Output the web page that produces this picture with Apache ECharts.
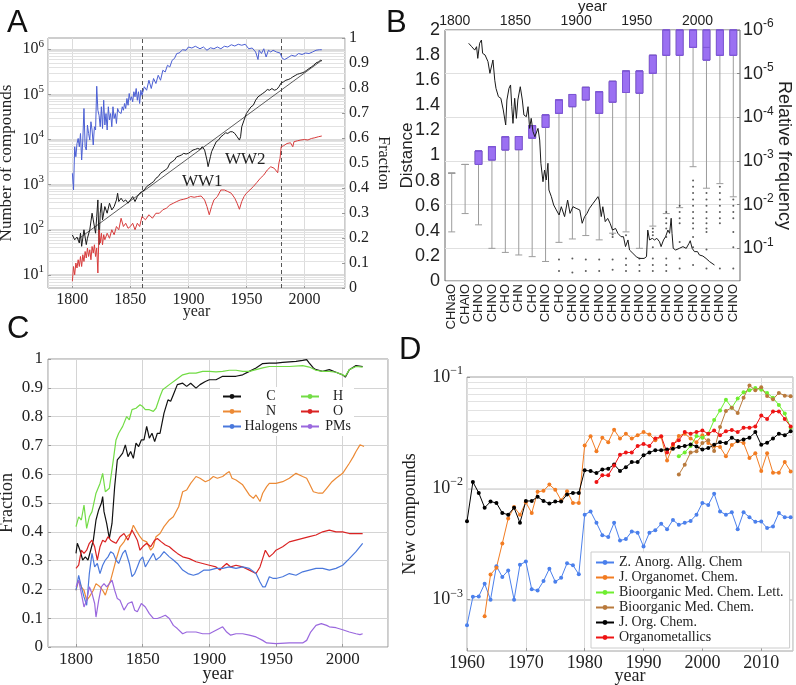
<!DOCTYPE html>
<html><head><meta charset="utf-8">
<script src="https://cdn.jsdelivr.net/npm/echarts@6/dist/echarts.min.js"></script>
<style>html,body{margin:0;padding:0;background:#fff}#c{width:796px;height:685px}</style>
</head><body><div id="c"></div>
<script>
// ================= Panel A =================
const aCompounds = [[1800,77],[1802,60],[1804,69],[1806,51],[1807,84],[1808,43],[1810,100],[1812,47],[1813,65],[1815,100],[1817,233],[1818,166],[1820,84],[1821,197],[1822,459],[1823,47],[1824,233],[1825,388],[1826,166],[1828,327],[1830,233],[1832,388],[1834,276],[1836,327],[1838,459],[1839,645],[1840,422],[1842,500],[1844,422],[1846,459],[1848,388],[1850,459],[1852,545],[1854,422],[1856,545],[1858,645],[1860,702],[1862,764],[1864,906],[1866,986],[1868,1073],[1870,1168],[1872,1384],[1874,1507],[1876,1785],[1878,1943],[1880,2115],[1882,2302],[1884,2970],[1886,3230],[1888,3517],[1890,4166],[1892,4311],[1894,4537],[1896,4940],[1898,4775],[1900,4940],[1902,5377],[1904,5853],[1906,6055],[1908,6370],[1910,6055],[1912,6934],[1914,5853],[1916,3517],[1917,2506],[1918,2593],[1919,4166],[1920,5377],[1922,6934],[1924,8937],[1926,9732],[1928,11530],[1930,12550],[1932,14130],[1934,13670],[1936,14870],[1938,14870],[1940,13670],[1942,11530],[1944,9732],[1945,11530],[1946,19190],[1948,26920],[1950,37840],[1952,44780],[1954,53080],[1956,57810],[1958,74500],[1960,88300],[1962,96100],[1964,104700],[1966,114000],[1968,128300],[1970,123900],[1972,134900],[1974,123900],[1976,128300],[1978,146900],[1980,179900],[1982,189600],[1984,206200],[1986,213300],[1988,224500],[1990,244400],[1992,261600],[1994,279900],[1996,289600],[1998,299500],[2000,315400],[2002,342800],[2004,373300],[2006,406400],[2008,442600],[2010,497800],[2012,524800],[2014,570200],[2015,552100]];
const aFit = [[1805,62],[2015,570000]];
const aFracBlue = [[1800,0.459],[1801,0.392],[1802,0.565],[1803,0.525],[1804,0.578],[1805,0.598],[1806,0.565],[1807,0.618],[1808,0.512],[1809,0.592],[1810,0.718],[1811,0.565],[1812,0.552],[1813,0.652],[1814,0.618],[1815,0.592],[1816,0.665],[1817,0.632],[1818,0.572],[1819,0.645],[1820,0.632],[1821,0.807],[1822,0.711],[1823,0.691],[1824,0.645],[1825,0.725],[1826,0.638],[1827,0.751],[1828,0.652],[1829,0.698],[1830,0.632],[1831,0.725],[1832,0.672],[1833,0.698],[1834,0.645],[1835,0.725],[1836,0.678],[1837,0.698],[1838,0.658],[1839,0.718],[1840,0.705],[1841,0.711],[1842,0.698],[1843,0.725],[1844,0.711],[1845,0.738],[1846,0.718],[1847,0.758],[1848,0.731],[1849,0.778],[1850,0.751],[1851,0.765],[1852,0.745],[1853,0.785],[1854,0.765],[1855,0.798],[1856,0.751],[1857,0.785],[1858,0.738],[1859,0.791],[1860,0.771],[1862,0.805],[1864,0.791],[1866,0.831],[1868,0.798],[1870,0.838],[1872,0.818],[1874,0.851],[1876,0.831],[1878,0.871],[1880,0.864],[1882,0.891],[1884,0.884],[1886,0.911],[1888,0.918],[1890,0.938],[1892,0.940],[1895,0.953],[1898,0.951],[1900,0.964],[1903,0.960],[1906,0.967],[1910,0.957],[1913,0.964],[1916,0.951],[1919,0.961],[1922,0.957],[1925,0.964],[1928,0.957],[1931,0.967],[1934,0.964],[1937,0.973],[1940,0.968],[1943,0.975],[1946,0.971],[1949,0.975],[1952,0.957],[1955,0.960],[1958,0.944],[1960,0.914],[1961,0.951],[1963,0.938],[1965,0.957],[1967,0.924],[1969,0.951],[1971,0.944],[1973,0.951],[1976,0.944],[1979,0.940],[1981,0.918],[1983,0.914],[1986,0.922],[1989,0.931],[1992,0.927],[1995,0.938],[1998,0.934],[2001,0.940],[2004,0.938],[2007,0.944],[2010,0.951],[2013,0.953],[2015,0.953]];
const aFracRed = [[1800,0.027],[1801,0.086],[1802,0.053],[1803,0.100],[1804,0.080],[1805,0.113],[1806,0.086],[1807,0.126],[1808,0.086],[1809,0.133],[1810,0.106],[1811,0.146],[1812,0.120],[1813,0.160],[1814,0.126],[1815,0.153],[1816,0.113],[1817,0.166],[1818,0.140],[1819,0.173],[1820,0.126],[1821,0.160],[1822,0.060],[1823,0.233],[1824,0.180],[1825,0.219],[1826,0.173],[1827,0.213],[1828,0.193],[1830,0.219],[1832,0.199],[1834,0.233],[1836,0.213],[1838,0.246],[1840,0.233],[1842,0.279],[1844,0.246],[1846,0.259],[1848,0.239],[1850,0.246],[1852,0.259],[1854,0.233],[1856,0.259],[1858,0.246],[1860,0.286],[1863,0.273],[1866,0.293],[1869,0.279],[1872,0.299],[1875,0.299],[1878,0.313],[1881,0.319],[1884,0.332],[1887,0.339],[1890,0.346],[1893,0.352],[1896,0.355],[1899,0.359],[1902,0.366],[1905,0.363],[1908,0.366],[1911,0.368],[1914,0.352],[1916,0.326],[1918,0.293],[1920,0.326],[1922,0.352],[1925,0.366],[1928,0.392],[1931,0.392],[1934,0.386],[1937,0.379],[1940,0.359],[1942,0.339],[1944,0.315],[1946,0.346],[1948,0.366],[1950,0.379],[1953,0.392],[1956,0.406],[1959,0.422],[1962,0.439],[1965,0.452],[1968,0.472],[1971,0.485],[1974,0.479],[1977,0.461],[1978,0.499],[1979,0.519],[1980,0.565],[1982,0.569],[1985,0.578],[1988,0.581],[1990,0.565],[1991,0.585],[1994,0.589],[1997,0.592],[2000,0.594],[2003,0.592],[2006,0.598],[2009,0.601],[2012,0.605],[2015,0.608]];
const aEventYears = [1860, 1980];
const aWarLabels = [['WW1', 1912, 0.425], ['WW2', 1949, 0.515]];

// ================= Panel B =================
const bCategories = ['CHNaO','CHAlO','CHNO','CHNO','CHO','CHN','CHO','CHNO','CHO','CHNO','CHNO','CHNO','CHNO','CHNO','CHNO','CHNO','CHNO','CHNO','CHNO','CHNO','CHNO','CHNO'];
const bBoxQ1 = [null,null,5.9e-4,4.7e-4,2.8e-4,2.75e-4,1.55e-4,8.8e-5,4.0e-5,3.0e-5,2.06e-5,2.6e-5,1.5e-5,8.7e-6,8.7e-6,3.8e-6,1e-6,1e-6,1e-6,1e-6,1e-6,1e-6];
const bBoxMedian = [null,null,5.9e-4,4.7e-4,2.8e-4,2.75e-4,1.55e-4,8.8e-5,4.0e-5,3.0e-5,2.06e-5,2.6e-5,1.5e-5,8.7e-6,8.7e-6,3.8e-6,1e-6,1e-6,1e-6,2.5e-6,1e-6,1e-6];
const bBoxQ3 = [null,null,1.2e-3,9.5e-4,5.6e-4,5.5e-4,3.0e-4,1.7e-4,8.1e-5,5.7e-5,4.0e-5,8.1e-5,4.5e-5,2.7e-5,2.8e-5,9.8e-6,3.8e-6,3.8e-6,2.5e-6,4.9e-6,3.8e-6,3.8e-6];
const bWhiskerTop = [1.9e-3,1.2e-3,5.9e-4,4.7e-4,2.8e-4,2.75e-4,1.55e-4,8.8e-5,4.0e-5,3.0e-5,2.06e-5,2.6e-5,1.5e-5,8.7e-6,8.7e-6,3.8e-6,1e-6,1e-6,1e-6,1e-6,1e-6,1e-6];
const bWhiskerBottom = [4.2e-2,1.6e-2,2.9e-2,0.1,0.124,0.142,0.155,0.2,7.3e-2,6.1e-2,5.1e-2,6.4e-2,4.5e-2,4.2e-2,0.1,3.1e-2,1.6e-2,1.17e-2,1.35e-3,4.2e-3,3.3e-3,6.6e-3];
const bOutliers = [[8,0.18],[8,0.33],[9,0.17],[9,0.36],[10,0.18],[10,0.33],[11,0.18],[11,0.33],[12,0.048],[12,0.055],[12,0.18],[12,0.31],[13,0.05],[13,0.17],[13,0.24],[13,0.33],[14,0.17],[14,0.24],[14,0.33],[15,0.035],[15,0.042],[15,0.05],[15,0.094],[15,0.17],[15,0.24],[15,0.33],[16,0.0147],[16,0.0205],[16,0.0267],[16,0.035],[16,0.055],[16,0.17],[16,0.24],[16,0.33],[17,0.0106],[17,0.0147],[17,0.0205],[17,0.0267],[17,0.072],[17,0.17],[17,0.29],[18,0.0028],[18,0.0039],[18,0.0054],[18,0.0076],[18,0.0106],[18,0.0147],[18,0.0205],[18,0.0267],[18,0.035],[18,0.055],[18,0.094],[18,0.24],[19,0.0054],[19,0.0076],[19,0.0106],[19,0.0147],[19,0.0205],[19,0.0267],[19,0.035],[19,0.042],[19,0.107],[19,0.29],[20,0.0039],[20,0.0054],[20,0.0076],[20,0.0106],[20,0.0147],[20,0.0205],[20,0.0267],[20,0.29],[21,0.0076],[21,0.0106],[21,0.0147],[21,0.0205],[21,0.042],[21,0.094],[21,0.29]];
const bDistance = [[1811.5,1.894],[1812,1.907],[1814,1.867],[1815,1.88],[1816.5,1.84],[1818,1.867],[1819,1.774],[1820.5,1.894],[1822,1.92],[1823,1.814],[1825,1.801],[1826,1.793],[1827.4,1.748],[1829,1.655],[1831.5,1.761],[1833,1.6],[1834,1.535],[1836,1.469],[1838,1.456],[1840,1.363],[1842,1.243],[1843,1.442],[1844.7,1.535],[1846,1.562],[1847,1.389],[1848,1.256],[1849.4,1.456],[1850.8,1.296],[1852,1.442],[1854,1.548],[1855.7,1.442],[1857,1.323],[1859,1.309],[1860.4,1.389],[1861.7,1.216],[1863,1.296],[1864.5,1.19],[1866,1.15],[1867,1.163],[1868.6,1.216],[1870,1.123],[1871,0.938],[1872.7,0.791],[1874,0.884],[1875.4,0.805],[1876.8,0.938],[1877.6,0.725],[1879.6,0.672],[1881.5,0.606],[1883.7,0.566],[1886,0.526],[1887.8,0.592],[1890.5,0.513],[1893,0.645],[1895,0.539],[1897.4,0.592],[1900,0.579],[1903,0.566],[1905,0.46],[1907,0.513],[1909,0.539],[1911,0.579],[1914,0.619],[1916,0.645],[1918,0.672],[1919,0.645],[1920.7,0.513],[1922,0.592],[1924,0.473],[1926,0.499],[1928,0.46],[1930,0.406],[1932.5,0.419],[1934.4,0.38],[1937,0.353],[1939,0.353],[1940.7,0.274],[1942.7,0.327],[1944,0.247],[1946.8,0.22],[1949.5,0.194],[1952,0.18],[1956,0.18],[1958,0.194],[1959,0.406],[1960.5,0.327],[1962.7,0.34],[1964.6,0.327],[1966.5,0.34],[1968.7,0.313],[1970,0.274],[1972,0.327],[1973.7,0.353],[1975.6,0.406],[1977,0.38],[1978.3,0.5],[1979,0.38],[1980,0.26],[1982,0.247],[1985,0.26],[1988,0.274],[1990.7,0.26],[1993,0.3],[1994,0.321],[1995.6,0.26],[1997.5,0.234],[2000,0.234],[2001.6,0.207],[2004.4,0.199],[2007,0.18],[2010,0.154],[2014,0.127]];

// ================= Panel C =================
const cCarbon = [[1800,0.325],[1801,0.360],[1803,0.336],[1805,0.302],[1807,0.313],[1809,0.302],[1811,0.336],[1813,0.371],[1815,0.441],[1817,0.476],[1819,0.499],[1820,0.522],[1821,0.470],[1823,0.429],[1825,0.377],[1827,0.429],[1829,0.557],[1831,0.650],[1833,0.661],[1835,0.673],[1837,0.702],[1839,0.661],[1841,0.679],[1843,0.655],[1845,0.708],[1847,0.696],[1849,0.719],[1851,0.719],[1853,0.766],[1855,0.725],[1857,0.742],[1859,0.713],[1861,0.742],[1863,0.742],[1866,0.812],[1869,0.858],[1871,0.853],[1873,0.876],[1876,0.911],[1880,0.916],[1883,0.905],[1886,0.916],[1890,0.899],[1893,0.911],[1897,0.922],[1900,0.928],[1905,0.928],[1910,0.940],[1915,0.940],[1920,0.940],[1925,0.945],[1930,0.957],[1935,0.969],[1940,0.984],[1945,0.986],[1950,0.986],[1955,0.988],[1960,0.990],[1965,0.992],[1970,0.995],[1973,0.998],[1975,0.986],[1978,0.969],[1980,0.963],[1985,0.957],[1990,0.963],[1995,0.954],[2000,0.945],[2002,0.937],[2005,0.963],[2010,0.977],[2015,0.974]];
const cHydrogen = [[1800,0.418],[1802,0.452],[1804,0.441],[1806,0.493],[1808,0.412],[1810,0.452],[1812,0.470],[1815,0.534],[1818,0.568],[1820,0.603],[1822,0.539],[1825,0.551],[1828,0.650],[1830,0.719],[1832,0.742],[1835,0.766],[1838,0.800],[1840,0.789],[1842,0.824],[1845,0.829],[1848,0.841],[1850,0.835],[1852,0.824],[1855,0.824],[1858,0.818],[1860,0.829],[1863,0.870],[1865,0.893],[1870,0.911],[1875,0.928],[1880,0.945],[1885,0.951],[1890,0.951],[1895,0.957],[1900,0.957],[1905,0.955],[1910,0.957],[1915,0.961],[1920,0.961],[1925,0.957],[1930,0.957],[1935,0.963],[1940,0.969],[1945,0.974],[1950,0.974],[1960,0.974],[1970,0.977],[1975,0.972],[1980,0.961],[1985,0.957],[1990,0.957],[1995,0.954],[2000,0.945],[2002,0.940],[2005,0.963],[2010,0.974],[2015,0.972]];
const cNitrogen = [[1800,0.197],[1802,0.232],[1804,0.209],[1806,0.197],[1808,0.162],[1810,0.174],[1813,0.197],[1815,0.220],[1818,0.209],[1820,0.197],[1822,0.180],[1824,0.209],[1826,0.232],[1828,0.267],[1830,0.302],[1833,0.348],[1836,0.365],[1838,0.383],[1841,0.394],[1843,0.423],[1845,0.406],[1848,0.383],[1850,0.371],[1853,0.365],[1856,0.336],[1858,0.348],[1860,0.383],[1863,0.394],[1866,0.418],[1870,0.441],[1873,0.452],[1877,0.487],[1880,0.539],[1883,0.545],[1886,0.568],[1890,0.592],[1893,0.586],[1897,0.574],[1900,0.580],[1903,0.592],[1906,0.586],[1910,0.592],[1913,0.603],[1915,0.609],[1917,0.586],[1920,0.580],[1925,0.563],[1930,0.528],[1933,0.516],[1935,0.528],[1938,0.505],[1940,0.534],[1943,0.557],[1945,0.568],[1950,0.568],[1955,0.574],[1960,0.586],[1965,0.603],[1970,0.592],[1973,0.586],[1975,0.568],[1978,0.539],[1982,0.534],[1985,0.534],[1988,0.551],[1992,0.574],[1995,0.586],[2000,0.603],[2005,0.638],[2008,0.661],[2010,0.679],[2013,0.702],[2016,0.696]];
const cOxygen = [[1800,0.273],[1802,0.284],[1804,0.336],[1806,0.325],[1808,0.336],[1810,0.360],[1812,0.371],[1814,0.348],[1816,0.302],[1818,0.348],[1820,0.371],[1822,0.365],[1824,0.383],[1826,0.371],[1828,0.365],[1830,0.360],[1833,0.383],[1836,0.394],[1839,0.371],[1842,0.406],[1844,0.389],[1846,0.371],[1848,0.336],[1850,0.348],[1853,0.360],[1856,0.348],[1859,0.371],[1861,0.377],[1864,0.365],[1867,0.354],[1870,0.348],[1873,0.336],[1876,0.325],[1880,0.313],[1885,0.307],[1890,0.296],[1895,0.290],[1900,0.284],[1905,0.278],[1908,0.267],[1910,0.278],[1913,0.290],[1916,0.278],[1920,0.284],[1925,0.278],[1930,0.267],[1935,0.255],[1938,0.278],[1940,0.307],[1942,0.336],[1945,0.313],[1948,0.325],[1950,0.336],[1955,0.348],[1960,0.365],[1965,0.371],[1970,0.377],[1975,0.383],[1980,0.389],[1985,0.400],[1990,0.406],[1995,0.400],[2000,0.400],[2005,0.394],[2010,0.394],[2015,0.394]];
const cHalogens = [[1800,0.197],[1802,0.249],[1804,0.209],[1806,0.174],[1808,0.145],[1810,0.255],[1812,0.325],[1814,0.278],[1816,0.290],[1818,0.255],[1820,0.284],[1822,0.302],[1824,0.313],[1826,0.331],[1828,0.325],[1830,0.302],[1832,0.290],[1835,0.325],[1837,0.336],[1840,0.290],[1842,0.244],[1844,0.255],[1846,0.278],[1848,0.302],[1850,0.313],[1852,0.278],[1855,0.302],[1858,0.325],[1860,0.302],[1863,0.313],[1866,0.331],[1870,0.313],[1873,0.302],[1876,0.290],[1880,0.267],[1884,0.255],[1888,0.249],[1892,0.255],[1896,0.267],[1900,0.267],[1905,0.273],[1910,0.273],[1915,0.278],[1920,0.273],[1925,0.278],[1930,0.273],[1935,0.255],[1938,0.226],[1940,0.209],[1942,0.209],[1945,0.244],[1948,0.238],[1950,0.238],[1955,0.244],[1960,0.255],[1965,0.249],[1970,0.261],[1975,0.267],[1980,0.273],[1985,0.273],[1990,0.267],[1995,0.273],[2000,0.284],[2005,0.307],[2010,0.331],[2015,0.360]];
const cPMs = [[1800,0.209],[1802,0.232],[1804,0.186],[1806,0.139],[1808,0.162],[1810,0.209],[1812,0.186],[1814,0.151],[1815,0.104],[1817,0.162],[1819,0.209],[1821,0.220],[1823,0.209],[1825,0.220],[1827,0.232],[1829,0.197],[1831,0.168],[1833,0.162],[1836,0.128],[1839,0.151],[1842,0.157],[1844,0.128],[1846,0.122],[1849,0.151],[1852,0.139],[1855,0.116],[1858,0.099],[1861,0.099],[1864,0.104],[1867,0.110],[1870,0.099],[1873,0.075],[1876,0.064],[1880,0.046],[1883,0.052],[1886,0.052],[1890,0.052],[1895,0.046],[1900,0.046],[1905,0.058],[1910,0.070],[1913,0.052],[1916,0.041],[1920,0.046],[1925,0.046],[1930,0.041],[1935,0.035],[1940,0.023],[1943,0.014],[1950,0.012],[1960,0.014],[1970,0.014],[1973,0.023],[1976,0.052],[1980,0.075],[1984,0.081],[1988,0.075],[1990,0.070],[1995,0.067],[2000,0.060],[2005,0.052],[2010,0.046],[2013,0.043],[2015,0.046]];

// ================= Panel D =================
const dZAnorg = [[1960,5.9e-4],[1961,1.06e-3],[1962,1.07e-3],[1963,1.39e-3],[1964,1.0e-3],[1965,2.0e-3],[1966,1.6e-3],[1967,1.83e-3],[1968,1.0e-3],[1969,2.06e-3],[1970,2.2e-3],[1971,1.24e-3],[1972,1.21e-3],[1973,1.47e-3],[1974,1.9e-3],[1975,1.45e-3],[1976,1.57e-3],[1977,2.12e-3],[1978,2.04e-3],[1979,1.69e-3],[1980,5.8e-3],[1981,6.2e-3],[1982,4.9e-3],[1983,3.8e-3],[1984,3.66e-3],[1985,4.9e-3],[1986,3.4e-3],[1987,3.5e-3],[1988,4.1e-3],[1989,4.0e-3],[1990,3.0e-3],[1991,4.0e-3],[1992,4.2e-3],[1993,4.8e-3],[1994,4.3e-3],[1995,5.2e-3],[1996,4.7e-3],[1997,4.9e-3],[1998,5.1e-3],[1999,5.8e-3],[2000,7.4e-3],[2001,7.1e-3],[2002,8.95e-3],[2003,6.2e-3],[2004,5.8e-3],[2005,6.1e-3],[2006,4.3e-3],[2007,6.1e-3],[2008,5.5e-3],[2009,5.0e-3],[2010,5.05e-3],[2011,4.4e-3],[2012,4.55e-3],[2013,6.0e-3],[2014,5.5e-3],[2015,5.5e-3]];
const dOrganomet = [[1963,7.1e-4],[1964,1.68e-3],[1965,1.94e-3],[1966,3.2e-3],[1967,5.35e-3],[1968,6.8e-3],[1969,5.8e-3],[1970,7.5e-3],[1971,6.0e-3],[1972,9.3e-3],[1973,9.5e-3],[1974,1.08e-2],[1975,9.7e-3],[1976,7.8e-3],[1977,9.4e-3],[1978,7.4e-3],[1979,7.4e-3],[1980,2.43e-2],[1981,2.93e-2],[1982,2.15e-2],[1983,2.85e-2],[1984,2.6e-2],[1985,3.36e-2],[1986,2.8e-2],[1987,3.1e-2],[1988,2.8e-2],[1989,3.0e-2],[1990,3.2e-2],[1991,3.05e-2],[1992,2.7e-2],[1993,2.9e-2],[1994,1.78e-2],[1995,2.4e-2],[1996,2.95e-2],[1997,3.1e-2],[1998,2.8e-2],[1999,2.6e-2],[2000,3.0e-2],[2001,2.55e-2],[2002,2.4e-2],[2003,2.35e-2],[2004,1.94e-2],[2005,2.45e-2],[2006,2.65e-2],[2007,2.55e-2],[2008,1.87e-2],[2009,2.07e-2],[2010,1.43e-2],[2011,2.07e-2],[2012,1.38e-2],[2013,1.38e-2],[2014,1.72e-2],[2015,1.42e-2]];
const dBioMedLett = [[1996,1.94e-2],[1997,2.1e-2],[1998,2.4e-2],[1999,2.95e-2],[2000,2.85e-2],[2001,3.1e-2],[2002,4.1e-2],[2003,5.0e-2],[2004,6.25e-2],[2005,5.3e-2],[2006,6.4e-2],[2007,7.3e-2],[2008,7.6e-2],[2009,7.95e-2],[2010,7.7e-2],[2011,7.2e-2],[2012,6.5e-2],[2013,5.6e-2],[2014,4.7e-2],[2015,3.5e-2]];
const dBioMed = [[1996,1.33e-2],[1997,1.63e-2],[1998,2.1e-2],[1999,2.15e-2],[2000,2.55e-2],[2001,2.7e-2],[2002,2.17e-2],[2003,3.55e-2],[2004,4.95e-2],[2005,5.3e-2],[2006,4.75e-2],[2007,6.5e-2],[2008,8.4e-2],[2009,7.6e-2],[2010,8.1e-2],[2011,6.75e-2],[2012,6.3e-2],[2013,7.2e-2],[2014,6.8e-2],[2015,6.7e-2]];
const dJOrgChem = [[1960,5.06e-3],[1961,1.14e-2],[1962,9.1e-3],[1963,6.7e-3],[1964,7.6e-3],[1965,7.4e-3],[1966,6.0e-3],[1967,5.8e-3],[1968,6.7e-3],[1969,4.9e-3],[1970,7.7e-3],[1971,7.7e-3],[1972,8.4e-3],[1973,7.7e-3],[1974,7.3e-3],[1975,7.6e-3],[1976,7.6e-3],[1977,8.8e-3],[1978,9.1e-3],[1979,9.1e-3],[1980,1.45e-2],[1981,1.43e-2],[1982,1.37e-2],[1983,1.48e-2],[1984,1.5e-2],[1985,1.64e-2],[1986,1.43e-2],[1987,1.55e-2],[1988,1.72e-2],[1989,1.72e-2],[1990,1.98e-2],[1991,2.1e-2],[1992,2.2e-2],[1993,2.2e-2],[1994,2.23e-2],[1995,2.27e-2],[1996,2.35e-2],[1997,2.4e-2],[1998,2.48e-2],[1999,2.38e-2],[2000,2.23e-2],[2001,2.3e-2],[2002,2.46e-2],[2003,2.6e-2],[2004,2.55e-2],[2005,2.85e-2],[2006,2.66e-2],[2007,2.75e-2],[2008,2.85e-2],[2009,3.2e-2],[2010,2.46e-2],[2011,2.57e-2],[2012,2.8e-2],[2013,3.1e-2],[2014,3.0e-2],[2015,3.25e-2]];
const dOrganometallics = [[1982,1.14e-2],[1983,1.31e-2],[1984,1.31e-2],[1985,1.6e-2],[1986,2.0e-2],[1987,2.1e-2],[1988,2.1e-2],[1989,2.4e-2],[1990,2.5e-2],[1991,2.4e-2],[1992,2.8e-2],[1993,2.93e-2],[1994,2.1e-2],[1995,2.5e-2],[1996,2.7e-2],[1997,3.2e-2],[1998,3.1e-2],[1999,3.2e-2],[2000,3.3e-2],[2001,3.1e-2],[2002,3.3e-2],[2003,3.0e-2],[2004,3.25e-2],[2005,3.35e-2],[2006,3.2e-2],[2007,3.5e-2],[2008,3.5e-2],[2009,3.6e-2],[2010,4.5e-2],[2011,4.2e-2],[2012,4.9e-2],[2013,4.9e-2],[2014,4.2e-2],[2015,3.6e-2]];

// ================= Rendering =================
const SERIF = 'Liberation Serif', SANS = 'Liberation Sans', TXT = '#222';
function powLabel(minus) {
  return function (v) {
    const l = Math.log10(v), e = Math.round(l);
    if (Math.abs(l - e) > 1e-6) return '';
    return '{b|10}{s|' + (e < 0 ? minus + (-e) : e) + '}';
  };
}
function supRich(font, base, sup) {
  return { b: { fontFamily: font, fontSize: base, lineHeight: base + 6, color: TXT },
           s: { fontFamily: font, fontSize: sup, lineHeight: sup + 1, verticalAlign: 'top', color: TXT } };
}
function minorDecades(lo, hi) {
  const out = [];
  for (let k = -6; k <= 7; k++) for (let m = 2; m <= 9; m++) {
    const v = m * Math.pow(10, k);
    if (v > lo && v < hi) out.push({ yAxis: v });
  }
  return out;
}
const fracFmt = v => (v === 0 ? '0' : v === 1 ? '1' : String(+v.toFixed(1)));
const yearFmt = v => String(Math.round(v));

const aMin = 5.13, aMax = 1778279;
const dMin = 3.46e-4, dMax = 0.1;

const chart = echarts.init(document.getElementById('c'), null, { renderer: 'canvas' });
const option = {
  animation: false,
  backgroundColor: '#fff',
  textStyle: { fontFamily: SERIF, color: TXT },
  graphic: [
    { type: 'text', left: 7, top: 8, style: { text: 'A', font: '31px "Liberation Sans"', fill: '#111' } },
    { type: 'text', left: 386, top: 8, style: { text: 'B', font: '31px "Liberation Sans"', fill: '#111' } },
    { type: 'text', left: 7, top: 314, style: { text: 'C', font: '31px "Liberation Sans"', fill: '#111' } },
    { type: 'text', left: 399, top: 335, style: { text: 'D', font: '31px "Liberation Sans"', fill: '#111' } }
  ],
  grid: [
    { left: 48, top: 38, width: 297, height: 250, show: true, borderColor: '#999', borderWidth: 1, outerBoundsMode: 'none' },
    { left: 445, top: 30, width: 295, height: 251, show: true, borderColor: '#666', borderWidth: 1, outerBoundsMode: 'none' },
    { left: 48, top: 359, width: 340, height: 288, show: true, borderColor: '#999', borderWidth: 1, outerBoundsMode: 'none' },
    { left: 467, top: 377, width: 326, height: 274, show: true, borderColor: '#aaa', borderWidth: 1, outerBoundsMode: 'none' }
  ],
  xAxis: [
    { gridIndex: 0, type: 'value', min: 1779, max: 2035, splitNumber: 5,
      axisLine: { show: false }, axisTick: { inside: true, length: 3, lineStyle: { color: '#999' } },
      axisLabel: { fontSize: 16, margin: 4, color: TXT, showMinLabel: false, showMaxLabel: false, formatter: yearFmt },
      splitLine: { show: true, lineStyle: { color: '#dcdcdc' } },
      name: 'year', nameLocation: 'middle', nameGap: 16, nameMoveOverlap: false, nameTextStyle: { fontSize: 16, color: TXT } },
    { gridIndex: 1, type: 'category', data: bCategories, boundaryGap: true,
      axisLine: { show: false }, axisTick: { show: false }, splitLine: { show: false },
      axisLabel: { rotate: 90, interval: 0, fontSize: 13, margin: 3, fontFamily: SANS, color: TXT } },
    { gridIndex: 1, type: 'category', data: bCategories, boundaryGap: true, show: false },
    { gridIndex: 1, type: 'value', position: 'top', min: 1792, max: 2035, splitNumber: 5,
      axisLine: { show: false }, axisTick: { show: false }, splitLine: { show: false },
      axisLabel: { fontSize: 14, margin: 2, fontFamily: SANS, color: TXT, showMinLabel: false, showMaxLabel: false, formatter: yearFmt },
      name: 'year', nameLocation: 'middle', nameGap: 16, nameMoveOverlap: false, nameTextStyle: { fontSize: 15, fontFamily: SANS, color: TXT } },
    { gridIndex: 2, type: 'value', min: 1779, max: 2034, splitNumber: 5,
      axisLine: { show: false }, axisTick: { inside: true, length: 3, lineStyle: { color: '#999' } },
      axisLabel: { fontSize: 17, margin: 4, color: TXT, showMinLabel: false, showMaxLabel: false, formatter: yearFmt },
      splitLine: { show: true, lineStyle: { color: '#d4d4d4' } },
      name: 'year', nameLocation: 'middle', nameGap: 18, nameMoveOverlap: false, nameTextStyle: { fontSize: 18, color: TXT } },
    { gridIndex: 3, type: 'value', min: 1960, max: 2015.4, splitNumber: 5,
      axisLine: { show: false }, axisTick: { inside: true, length: 3, lineStyle: { color: '#999' } },
      axisLabel: { fontSize: 18, margin: 3, color: TXT, showMaxLabel: false, formatter: yearFmt },
      splitLine: { show: true, lineStyle: { color: '#dcdcdc' } },
      name: 'year', nameLocation: 'middle', nameGap: 16, nameMoveOverlap: false, nameTextStyle: { fontSize: 18, color: TXT } }
  ],
  yAxis: [
    { gridIndex: 0, type: 'log', min: aMin, max: aMax, position: 'left',
      axisLine: { show: false }, axisTick: { inside: true, length: 3, lineStyle: { color: '#999' } },
      axisLabel: { formatter: powLabel(''), rich: supRich(SERIF, 16, 11), margin: 4, showMinLabel: false, showMaxLabel: false },
      splitLine: { show: true, lineStyle: { color: '#cfcfcf', width: 1.5 } },
      name: 'Number of compounds', nameLocation: 'middle', nameGap: 33, nameMoveOverlap: false, nameTextStyle: { fontSize: 17, color: TXT } },
    { gridIndex: 0, type: 'value', min: 0, max: 1, interval: 0.1, position: 'right',
      axisLine: { show: false }, axisTick: { inside: true, length: 3, lineStyle: { color: '#999' } },
      axisLabel: { fontSize: 16, margin: 4, color: TXT, formatter: fracFmt },
      splitLine: { show: false },
      name: 'Fraction', nameLocation: 'middle', nameRotate: -90, nameGap: 30, nameMoveOverlap: false, nameTextStyle: { fontSize: 16, color: TXT } },
    { gridIndex: 1, type: 'value', min: 0, max: 2, interval: 0.2, position: 'left',
      axisLine: { show: false }, axisTick: { show: false }, splitLine: { show: false },
      axisLabel: { fontSize: 18, margin: 5, fontFamily: SANS, color: TXT, formatter: fracFmt },
      name: 'Distance', nameLocation: 'middle', nameGap: 29, nameMoveOverlap: false, nameTextStyle: { fontSize: 17, fontFamily: SANS, color: TXT } },
    { gridIndex: 1, type: 'log', min: 1e-6, max: 0.56, inverse: true, position: 'right',
      axisLine: { show: false }, axisTick: { inside: true, length: 3, lineStyle: { color: '#888' } },
      axisLabel: { formatter: powLabel('-'), rich: supRich(SANS, 18, 12), margin: 3, showMaxLabel: false },
      splitLine: { show: true, lineStyle: { color: '#e0e0e0' } },
      name: 'Relative frequency', nameLocation: 'middle', nameRotate: -90, nameGap: 35, nameMoveOverlap: false, nameTextStyle: { fontSize: 18, fontFamily: SANS, color: TXT } },
    { gridIndex: 2, type: 'value', min: 0, max: 1, interval: 0.1,
      axisLine: { show: false }, axisTick: { inside: true, length: 3, lineStyle: { color: '#999' } },
      axisLabel: { fontSize: 17, margin: 5, color: TXT, formatter: fracFmt },
      splitLine: { show: true, lineStyle: { color: '#d4d4d4' } },
      name: 'Fraction', nameLocation: 'middle', nameGap: 32, nameMoveOverlap: false, nameTextStyle: { fontSize: 18, color: TXT } },
    { gridIndex: 3, type: 'log', min: dMin, max: dMax,
      axisLine: { show: false }, axisTick: { inside: true, length: 3, lineStyle: { color: '#999' } },
      axisLabel: { formatter: powLabel('\u2212'), rich: supRich(SERIF, 18, 12), margin: 4, showMinLabel: false },
      splitLine: { show: true, lineStyle: { color: '#cfcfcf', width: 1.5 } },
      name: 'New compounds', nameLocation: 'middle', nameGap: 48, nameMoveOverlap: false, nameTextStyle: { fontSize: 18, color: TXT } }
  ],
  legend: [
    { data: ['C', 'N', 'Halogens'], orient: 'vertical', left: 220, top: 387, padding: [2, 2, 2, 2], itemGap: 0,
      itemWidth: 18, itemHeight: 6, backgroundColor: '#fff',
      formatter: n => '{w|' + n + '}',
      textStyle: { fontSize: 14, lineHeight: 15, fontFamily: SERIF, color: TXT, rich: { w: { width: 50, align: 'center', fontSize: 14, fontFamily: SERIF } } } },
    { data: ['H', 'O', 'PMs'], orient: 'vertical', left: 298, top: 387, padding: [2, 2, 2, 2], itemGap: 0,
      itemWidth: 18, itemHeight: 6, backgroundColor: '#fff',
      formatter: n => '{w|' + n + '}',
      textStyle: { fontSize: 14, lineHeight: 15, fontFamily: SERIF, color: TXT, rich: { w: { width: 28, align: 'center', fontSize: 14, fontFamily: SERIF } } } },
    { data: ['Z. Anorg. Allg. Chem', 'J. Organomet. Chem.', 'Bioorganic Med. Chem. Lett.', 'Bioorganic Med. Chem.', 'J. Org. Chem.', 'Organometallics'],
      orient: 'vertical', left: 591, top: 552, padding: [3, 6, 3, 4], itemGap: 0, itemWidth: 18, itemHeight: 6,
      backgroundColor: '#fff', borderColor: '#ccc', borderWidth: 1,
      textStyle: { fontSize: 14, lineHeight: 15, fontFamily: SERIF, color: TXT } }
  ],
  series: [
    // ---- A ----
    { name: 'A-grid', type: 'line', xAxisIndex: 0, yAxisIndex: 0, data: [], silent: true, z: 1,
      markLine: { silent: true, z: 1, symbol: ['none', 'none'], label: { show: false }, animation: false,
        lineStyle: { color: '#e2e2e2', width: 1, type: 'solid' },
        data: minorDecades(aMin, aMax).concat(aEventYears.map(y => ({ xAxis: y, lineStyle: { color: '#555', type: [4, 3], width: 1 } }))) } },
    { name: 'A-fit', type: 'line', xAxisIndex: 0, yAxisIndex: 0, data: aFit, showSymbol: false, lineStyle: { color: '#333', width: 0.8 }, z: 3 },
    { name: 'A-compounds', type: 'line', xAxisIndex: 0, yAxisIndex: 0, data: aCompounds, showSymbol: false, lineStyle: { color: '#1a1a1a', width: 1 }, z: 4 },
    { name: 'A-blue', type: 'line', xAxisIndex: 0, yAxisIndex: 1, data: aFracBlue, showSymbol: false, lineStyle: { color: '#4b5fd4', width: 1 }, z: 4 },
    { name: 'A-red', type: 'line', xAxisIndex: 0, yAxisIndex: 1, data: aFracRed, showSymbol: false, lineStyle: { color: '#d83c3c', width: 1 }, z: 4,
      markPoint: { symbol: 'circle', symbolSize: 1, itemStyle: { color: 'rgba(0,0,0,0)' },
        label: { show: true, position: 'inside', formatter: '{b}', fontSize: 17, fontFamily: SERIF, color: TXT },
        data: aWarLabels.map(w => ({ name: w[0], coord: [w[1], w[2]] })) } },
    // ---- B ----
    { name: 'B-whiskers', type: 'boxplot', xAxisIndex: 1, yAxisIndex: 3, boxWidth: [7, 7], z: 2,
      itemStyle: { color: 'rgba(0,0,0,0)', borderColor: '#9c9c9c', borderWidth: 1 },
      data: bCategories.map((c, i) => {
        const t = bWhiskerTop[i];
        return [t, bBoxQ1[i] ?? t, bBoxMedian[i] ?? t, bBoxQ3[i] ?? t, bWhiskerBottom[i]];
      }) },
    { name: 'B-boxes', type: 'boxplot', xAxisIndex: 2, yAxisIndex: 3, boxWidth: [7, 7], z: 3,
      itemStyle: { color: '#9b70f2', borderColor: '#7d55d6', borderWidth: 1 },
      data: bCategories.map((c, i) => bBoxQ1[i] == null ? '-' : [bBoxQ1[i], bBoxQ1[i], bBoxMedian[i], bBoxQ3[i], bBoxQ3[i]]) },
    { name: 'B-outliers', type: 'scatter', xAxisIndex: 1, yAxisIndex: 3, data: bOutliers, symbolSize: 2, itemStyle: { color: '#333' }, z: 3 },
    { name: 'B-distance', type: 'line', xAxisIndex: 3, yAxisIndex: 2, data: bDistance, showSymbol: false, lineStyle: { color: '#1a1a1a', width: 1 }, z: 4 },
    // ---- C ----
    { name: 'C', type: 'line', xAxisIndex: 4, yAxisIndex: 4, data: cCarbon, symbol: 'circle', symbolSize: 2, showSymbol: false, itemStyle: { color: '#111' }, lineStyle: { width: 1.2 } },
    { name: 'H', type: 'line', xAxisIndex: 4, yAxisIndex: 4, data: cHydrogen, symbol: 'circle', symbolSize: 2, showSymbol: false, itemStyle: { color: '#72dc45' }, lineStyle: { width: 1.2 } },
    { name: 'N', type: 'line', xAxisIndex: 4, yAxisIndex: 4, data: cNitrogen, symbol: 'circle', symbolSize: 2, showSymbol: false, itemStyle: { color: '#ec8a35' }, lineStyle: { width: 1.2 } },
    { name: 'O', type: 'line', xAxisIndex: 4, yAxisIndex: 4, data: cOxygen, symbol: 'circle', symbolSize: 2, showSymbol: false, itemStyle: { color: '#da2323' }, lineStyle: { width: 1.2 } },
    { name: 'Halogens', type: 'line', xAxisIndex: 4, yAxisIndex: 4, data: cHalogens, symbol: 'circle', symbolSize: 2, showSymbol: false, itemStyle: { color: '#4a78dc' }, lineStyle: { width: 1.2 } },
    { name: 'PMs', type: 'line', xAxisIndex: 4, yAxisIndex: 4, data: cPMs, symbol: 'circle', symbolSize: 2, showSymbol: false, itemStyle: { color: '#9a68de' }, lineStyle: { width: 1.2 } },
    // ---- D ----
    { name: 'D-grid', type: 'line', xAxisIndex: 5, yAxisIndex: 5, data: [], silent: true, z: 1,
      markLine: { silent: true, z: 1, symbol: ['none', 'none'], label: { show: false }, animation: false,
        lineStyle: { color: '#e2e2e2', width: 1, type: 'solid' }, data: minorDecades(dMin, dMax) } },
    { name: 'Z. Anorg. Allg. Chem', type: 'line', xAxisIndex: 5, yAxisIndex: 5, data: dZAnorg, symbol: 'circle', symbolSize: 4, itemStyle: { color: '#4b80ec' }, lineStyle: { width: 1 } },
    { name: 'J. Organomet. Chem.', type: 'line', xAxisIndex: 5, yAxisIndex: 5, data: dOrganomet, symbol: 'circle', symbolSize: 4, itemStyle: { color: '#f27c22' }, lineStyle: { width: 1 } },
    { name: 'Bioorganic Med. Chem. Lett.', type: 'line', xAxisIndex: 5, yAxisIndex: 5, data: dBioMedLett, symbol: 'circle', symbolSize: 4, itemStyle: { color: '#6fee30' }, lineStyle: { width: 1 } },
    { name: 'Bioorganic Med. Chem.', type: 'line', xAxisIndex: 5, yAxisIndex: 5, data: dBioMed, symbol: 'circle', symbolSize: 4, itemStyle: { color: '#b97a3d' }, lineStyle: { width: 1 } },
    { name: 'J. Org. Chem.', type: 'line', xAxisIndex: 5, yAxisIndex: 5, data: dJOrgChem, symbol: 'circle', symbolSize: 4, itemStyle: { color: '#000' }, lineStyle: { width: 1 } },
    { name: 'Organometallics', type: 'line', xAxisIndex: 5, yAxisIndex: 5, data: dOrganometallics, symbol: 'circle', symbolSize: 4, itemStyle: { color: '#ee1414' }, lineStyle: { width: 1 } }
  ]
};
chart.setOption(option);
</script>
</body></html>
